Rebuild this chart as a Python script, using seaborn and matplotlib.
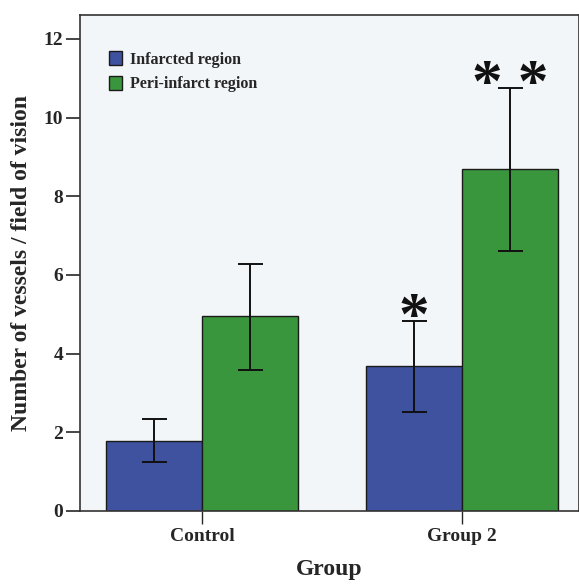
import matplotlib
matplotlib.use("Agg")
import matplotlib.pyplot as plt
import pandas as pd
import seaborn as sns

groups = ["Control", "Group 2"]
regions = ["Infarcted region", "Peri-infarct region"]
infarcted = [1.78, 3.68]
peri = [4.95, 8.70]
infarcted_lo = [1.24, 2.51]
infarcted_hi = [2.33, 4.82]
peri_lo = [3.58, 6.60]
peri_hi = [6.27, 10.76]
marks = {("Group 2", "Infarcted region"): "*", ("Group 2", "Peri-infarct region"): "* *"}

df = pd.DataFrame({
    "Group": groups * 2,
    "Region": [regions[0]] * 2 + [regions[1]] * 2,
    "value": infarcted + peri,
    "lo": infarcted_lo + peri_lo,
    "hi": infarcted_hi + peri_hi,
})

sns.set_style("ticks")
plt.rcParams["font.family"] = ["Liberation Serif", "DejaVu Serif"]
plt.rcParams["font.weight"] = "bold"

fig = plt.figure(figsize=(5.79, 5.86), dpi=100)
ax = fig.add_axes([0.138, 0.128, 0.862, 0.846])
ax.set_facecolor("#f3f6f8")

palette = {"Infarcted region": "#3f52a0", "Peri-infarct region": "#3a963d"}
sns.barplot(data=df, x="Group", y="value", hue="Region", order=groups,
            hue_order=regions, palette=palette, width=0.74, errorbar=None,
            edgecolor="#1a1a1a", linewidth=1.0, saturation=1, ax=ax)

# error bars and significance marks at bar centres
for cont, reg in zip(ax.containers, regions):
    sub = df[df["Region"] == reg].set_index("Group").loc[groups]
    for bar, (g, row) in zip(cont, sub.iterrows()):
        xc = bar.get_x() + bar.get_width() / 2
        ax.errorbar(xc, row["value"],
                    yerr=[[row["value"] - row["lo"]], [row["hi"] - row["value"]]],
                    fmt="none", ecolor="#111111", elinewidth=1.4, capsize=9, capthick=1.4)
        if (g, reg) in marks:
            ax.text(xc, row["hi"] - 0.66, marks[(g, reg)], ha="center", va="bottom",
                    fontsize=44, fontweight="bold", color="#111111")

ax.set_ylim(0, 12.6)
ax.set_xlim(-0.47, 1.45)
ax.set_yticks([0, 2, 4, 6, 8, 10, 12])
ax.tick_params(axis="y", length=10, width=1.2, labelsize=14, pad=2)
ax.tick_params(axis="x", length=9.5, width=1.0, labelsize=14, pad=3)
for lab in ax.get_xticklabels() + ax.get_yticklabels():
    lab.set_fontweight("bold")
ax.set_xlabel("Group", fontsize=17, fontweight="bold", labelpad=10)
ax.set_ylabel("Number of vessels / field of vision", fontsize=17, fontweight="bold", labelpad=8)
for s in ax.spines.values():
    s.set_linewidth(1.2)
    s.set_color("#333333")

ax.legend(loc="upper left", bbox_to_anchor=(0.03, 0.956), frameon=False,
          prop={"size": 11.5, "weight": "bold"}, handlelength=0.8, handleheight=0.9,
          handletextpad=0.5, labelspacing=0.55)

fig.savefig("out.png", dpi=100)
